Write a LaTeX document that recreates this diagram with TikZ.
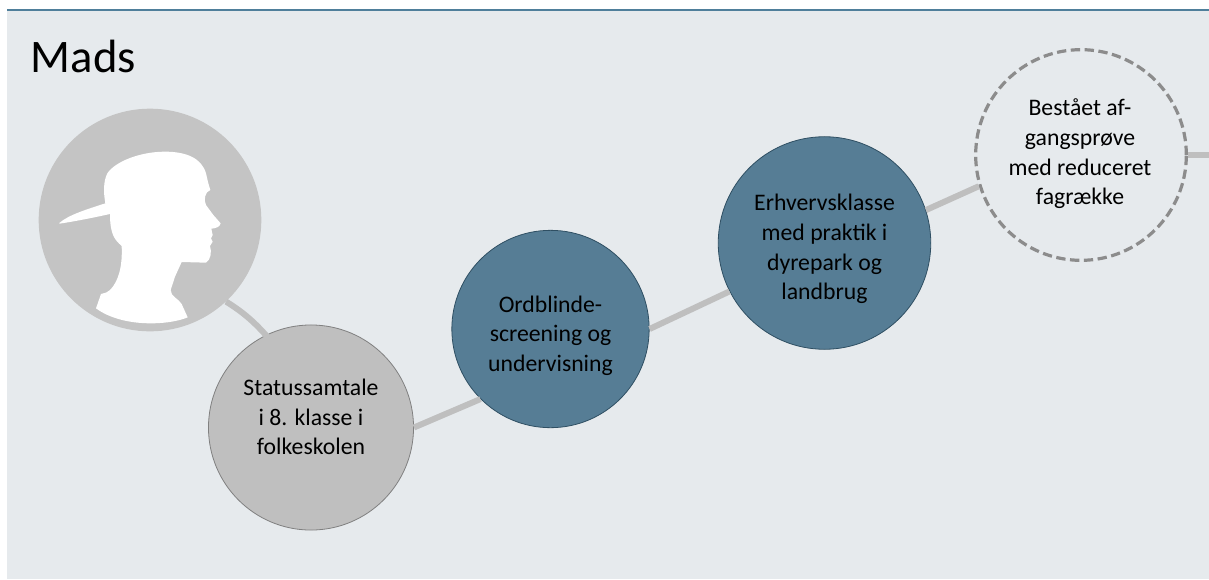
\documentclass[tikz,border=0pt]{standalone}
\usepackage{fontspec}
\setmainfont{Carlito}
\definecolor{panel}{HTML}{E6EAED}
\definecolor{topline}{HTML}{4F7F9B}
\definecolor{bluefill}{HTML}{567D95}
\definecolor{blueedge}{HTML}{2F4F63}
\definecolor{greyfill}{HTML}{BFBFBF}
\definecolor{personfill}{HTML}{C4C4C4}
\definecolor{dashcol}{HTML}{8C8C8C}
\tikzset{
  disc/.style={circle,inner sep=0pt},
  disctext/.style={inner sep=0pt,align=center,font=\fontsize{17.8}{22.2}\selectfont,text=black},
  greydisc/.style={disc,fill=greyfill,draw=gray,line width=.6pt,minimum size=153.8pt},
  bluedisc/.style={disc,fill=bluefill,draw=blueedge,line width=.6pt},
  dashdisc/.style={disc,draw=dashcol,line width=2.4pt,dash pattern=on 7pt off 3.4pt,minimum size=158pt},
  link/.style={draw=greyfill,line width=4.5pt}
}
\begin{document}
\begin{tikzpicture}[x=.75pt,y=-.75pt]
\useasboundingbox (0,0) rectangle (1209,579);
\fill[white] (0,0) rectangle (1209,579);
\fill[panel] (7,10) rectangle (1209,578.5);
\fill[topline] (7,9) rectangle (1209,11);
\node[anchor=base west,inner sep=0pt,font=\fontsize{35}{40}\selectfont] (title) at (30.5,72) {Mads};
\coordinate (exit) at (1209,155);
% nodes
\node[disc,fill=personfill,minimum size=167pt] (person) at (150,220) {};
\node[greydisc] (status) at (311,427.5) {};
\node[bluedisc,minimum size=148pt] (ord) at (550.5,329) {};
\node[bluedisc,minimum size=159.4pt] (erhverv) at (824.5,243) {};
\node[dashdisc] (bestaet) at (1081,155) {};
% texts
\node[disctext] (statustext) at (311,417) {Statussamtale\\i 8. klasse i\\folkeskolen};
\node[disctext] (ordtext) at (550.5,335.5) {Ordblinde-\\screening og\\undervisning};
\node[disctext] (erhvervtext) at (824.5,249) {Erhvervsklasse\\med praktik i\\dyrepark og\\landbrug};
\node[disctext] (bestaettext) at (1080,154) {Bestået af-\\gangsprøve\\med reduceret\\fagrække};
% connectors
\draw[link,shorten >=-5pt] (person.-47) .. controls +(16,10) and +(-12,-14) .. (status.116);
\draw[link] (status.0) -- (ord.225);
\draw[link] (ord.0.5) -- (erhverv.207.3);
\draw[link] (erhverv.18.4) -- (bestaet.197);
\draw[link] (bestaet.0) -- (exit);
% silhouette
\begin{scope}[x=.25pt,y=-.25pt,shift={(0pt,-90pt)}]
\fill[white] (178,309) .. controls (205,285) and (260,268) .. (316,250)
  .. controls (310,215) and (310,185) .. (322,160)
  .. controls (345,125) and (420,95) .. (495,95)
  .. controls (560,95) and (605,115) .. (618,160)
  -- (625,190) -- (631,210)
  .. controls (615,215) and (610,240) .. (618,255)
  -- (640,285) -- (662,310)
  .. controls (660,322) and (645,325) .. (634,326)
  -- (638,345) -- (633,355) -- (638,365) -- (630,378)
  .. controls (636,395) and (632,420) .. (618,428)
  -- (545,426) -- (525,470) -- (512,510)
  .. controls (512,530) and (535,535) .. (545,552)
  -- (563,592)
  .. controls (510,615) and (370,625) .. (288,565)
  -- (303,522)
  .. controls (315,518) and (325,518) .. (330,510)
  .. controls (355,485) and (368,440) .. (365,378)
  .. controls (345,360) and (330,345) .. (330,282)
  .. controls (280,293) and (220,305) .. (178,311)
  -- cycle;
\end{scope}
\end{tikzpicture}
\end{document}
